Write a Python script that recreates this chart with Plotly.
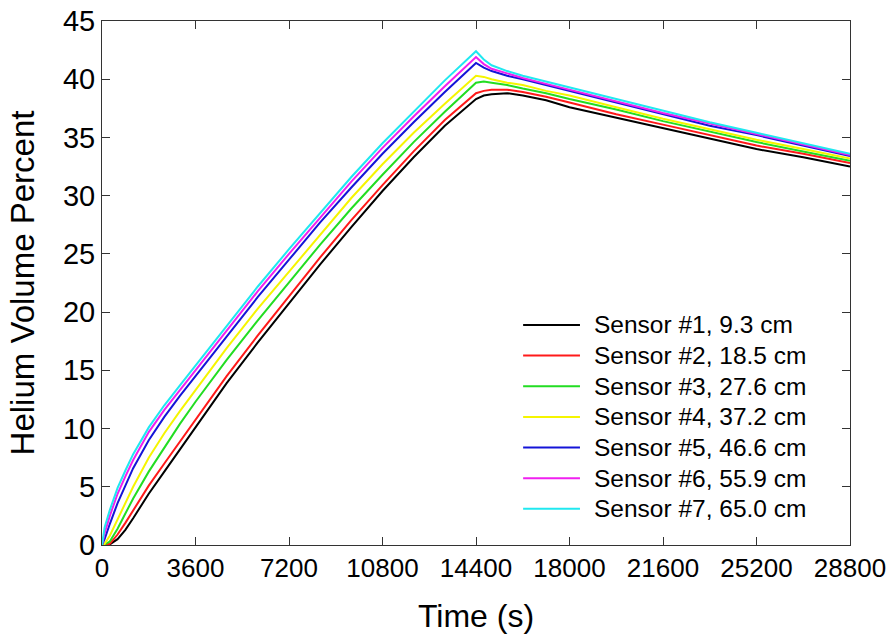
import plotly.graph_objects as go

time_s = [0, 100, 300, 600, 900, 1200, 1800, 2400, 3000, 3600, 4800, 6000, 7200, 8400, 9600,
          10800, 12000, 13200, 14400, 14700, 15000, 15600, 16200, 17100, 18000, 19800,
          21600, 23400, 25200, 27000, 28800]

sensor1 = [0, 0.0, 0.05, 0.5, 1.3, 2.3, 4.4, 6.3, 8.2, 10.1, 13.9, 17.4, 20.8, 24.1, 27.3,
           30.4, 33.3, 36.0, 38.3, 38.6, 38.7, 38.8, 38.6, 38.2, 37.6, 36.7,
           35.8, 34.9, 34.0, 33.3, 32.5]
sensor2 = [0, 0.0, 0.1, 0.9, 1.9, 3.0, 5.1, 7.0, 8.9, 10.8, 14.5, 18.0, 21.4, 24.7, 27.9,
           30.9, 33.8, 36.5, 38.8, 39.0, 39.1, 39.1, 38.9, 38.5, 38.0, 37.0,
           36.1, 35.2, 34.3, 33.6, 32.8]
sensor3 = [0, 0.05, 0.3, 1.4, 2.7, 4.0, 6.3, 8.4, 10.4, 12.3, 15.9, 19.3, 22.6, 25.8, 28.9,
           31.8, 34.6, 37.2, 39.7, 39.8, 39.7, 39.5, 39.2, 38.8, 38.3, 37.4,
           36.4, 35.5, 34.6, 33.8, 33.0]
sensor4 = [0, 0.1, 0.8, 2.2, 3.6, 5.0, 7.5, 9.6, 11.5, 13.3, 16.9, 20.3, 23.5, 26.7, 29.8,
           32.7, 35.4, 37.9, 40.3, 40.2, 40.0, 39.7, 39.5, 39.0, 38.6, 37.6,
           36.6, 35.7, 34.8, 34.0, 33.2]
sensor5 = [0, 0.5, 1.8, 3.6, 5.1, 6.6, 9.0, 11.0, 12.8, 14.5, 18.0, 21.3, 24.5, 27.7, 30.7,
           33.6, 36.3, 38.9, 41.4, 41.0, 40.7, 40.3, 40.0, 39.5, 39.0, 38.0,
           37.0, 36.0, 35.2, 34.3, 33.4]
sensor6 = [0, 1.0, 2.5, 4.4, 5.9, 7.3, 9.7, 11.6, 13.3, 15.0, 18.5, 21.8, 25.0, 28.1, 31.2,
           34.1, 36.8, 39.4, 41.9, 41.3, 40.9, 40.5, 40.1, 39.6, 39.1, 38.1,
           37.1, 36.2, 35.3, 34.4, 33.5]
sensor7 = [0, 1.5, 3.0, 4.9, 6.4, 7.8, 10.1, 12.0, 13.7, 15.4, 18.9, 22.2, 25.4, 28.5, 31.6,
           34.5, 37.2, 39.9, 42.4, 41.7, 41.2, 40.7, 40.3, 39.8, 39.3, 38.3,
           37.3, 36.3, 35.4, 34.5, 33.6]

names = ["Sensor #1, 9.3 cm", "Sensor #2, 18.5 cm", "Sensor #3, 27.6 cm",
         "Sensor #4, 37.2 cm", "Sensor #5, 46.6 cm", "Sensor #6, 55.9 cm",
         "Sensor #7, 65.0 cm"]
series = [sensor1, sensor2, sensor3, sensor4, sensor5, sensor6, sensor7]
colors = ["#000000", "#ff1a1a", "#22dd22", "#f5f500", "#1414d8", "#f020f0", "#20e8f0"]

x_ticks = [0, 3600, 7200, 10800, 14400, 18000, 21600, 25200, 28800]
y_ticks = [0, 5, 10, 15, 20, 25, 30, 35, 40, 45]

fig = go.Figure()
for name, ys, c in zip(names, series, colors):
    fig.add_trace(go.Scatter(x=time_s, y=ys, mode="lines", name=name,
                             line=dict(color=c, width=2), showlegend=False))

# Legend drawn in plot-area (paper) coordinates, to match the reference's row spacing
leg_line_x0, leg_line_x1, leg_text_x = 0.563, 0.639, 0.655
leg_top, leg_step = 0.42, 0.0585
for i, (name, c) in enumerate(zip(names, colors)):
    yp = leg_top - i * leg_step
    fig.add_shape(type="line", xref="paper", yref="paper",
                  x0=leg_line_x0, x1=leg_line_x1, y0=yp, y1=yp,
                  line=dict(color=c, width=2))
    fig.add_annotation(xref="paper", yref="paper", x=leg_text_x, y=yp,
                       xanchor="left", yanchor="middle", text=name, showarrow=False,
                       font=dict(size=24.5, color="black"))

fig.update_layout(
    width=886, height=642,
    margin=dict(l=102, r=36, t=21, b=97),
    paper_bgcolor="white", plot_bgcolor="white",
    font=dict(family="Arial, Liberation Sans, sans-serif", color="black"),
    showlegend=False,
    xaxis=dict(range=[0, 28800], tickvals=x_ticks, ticktext=[str(v) for v in x_ticks],
               ticks="inside", ticklen=8, tickcolor="#333", mirror="ticks",
               showline=True, linecolor="#333", linewidth=1, showgrid=False,
               zeroline=False, automargin=False, ticklabeloverflow="allow",
               tickfont=dict(size=26, family="Liberation Sans Narrow, Arial Narrow, Arial"),
               title=dict(text="Time (s)", font=dict(size=32), standoff=22)),
    yaxis=dict(range=[0, 45], tickvals=y_ticks,
               ticks="inside", ticklen=8, tickcolor="#333", mirror="ticks",
               showline=True, linecolor="#333", linewidth=1, showgrid=False,
               zeroline=False, automargin=False, ticklabeloverflow="allow",
               tickfont=dict(size=29),
               title=dict(text="Helium Volume Percent", font=dict(size=33), standoff=18)),
)

fig.write_html("out.html", config={"displayModeBar": False},
               post_script="document.body.style.margin='0';document.body.style.overflow='hidden';")
